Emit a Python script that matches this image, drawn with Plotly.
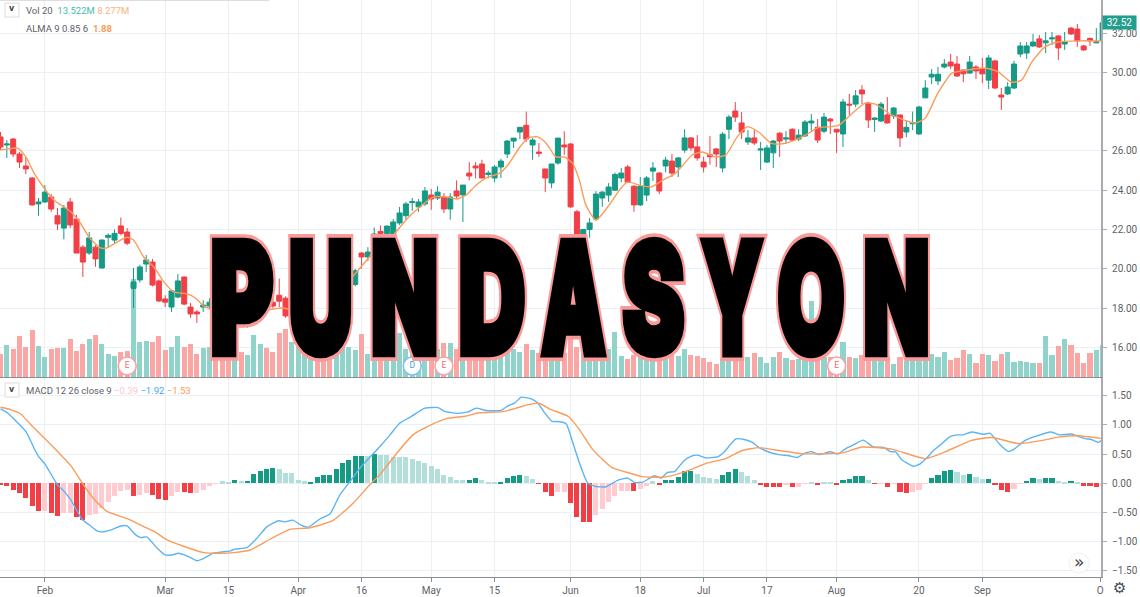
import json
import plotly.graph_objects as go

# ---------- daily price data (bar index 0..174) ----------
opens = [26.71,26.30,26.60,25.84,25.23,24.62,23.30,23.40,23.65,22.70,22.07,23.40,22.53,21.10,20.80,21.10,20.04,21.60,21.46,22.18,
21.87,19.00,19.43,20.24,20.34,19.38,18.46,18.05,18.56,19.58,18.05,17.80,18.05,18.10,18.40,18.00,17.70,17.30,17.85,17.30,
17.65,17.80,18.20,18.30,18.65,18.50,17.50,17.40,17.00,17.00,16.40,16.30,16.80,17.50,18.00,18.60,19.20,20.80,20.60,21.46,
21.90,21.80,21.72,22.33,22.70,23.37,23.15,23.30,23.75,23.60,23.65,23.04,23.96,23.76,24.87,25.23,25.33,24.80,24.62,25.18,
25.84,26.50,26.96,27.30,26.30,25.94,25.08,24.37,25.38,26.30,26.35,22.90,21.30,22.00,22.53,23.60,23.75,24.00,24.62,25.18,
24.20,23.25,23.75,24.97,24.87,25.23,25.48,25.18,26.04,26.66,26.20,25.43,25.80,26.10,25.13,27.10,28.03,27.42,26.45,26.66,
26.04,25.43,25.90,26.90,26.60,27.10,26.60,26.76,27.42,27.20,27.00,27.62,27.10,26.86,28.38,28.38,29.10,28.43,27.60,27.52,
27.83,27.78,27.83,26.96,27.38,26.86,28.70,29.76,29.56,30.27,30.52,30.42,30.12,29.96,30.27,30.17,29.60,30.58,28.84,28.90,
29.20,30.93,30.98,31.34,31.70,31.50,31.70,31.85,31.44,32.25,32.20,31.34,31.72,31.50,31.60]
highs = [26.96,26.55,26.66,25.94,25.69,24.67,23.60,24.26,23.80,23.10,23.25,23.60,22.74,21.20,21.87,21.20,21.50,21.80,22.00,22.60,
22.07,20.04,20.20,20.70,20.50,19.45,18.65,18.92,19.73,19.60,18.25,17.90,18.40,18.50,18.50,18.10,17.80,17.70,17.90,17.75,
17.90,18.20,18.30,18.50,19.50,18.60,17.90,17.80,17.30,17.30,16.45,16.40,16.90,18.10,18.70,19.30,20.00,20.85,21.10,22.10,
22.20,22.20,22.53,23.15,23.40,23.60,23.55,24.16,24.06,24.20,23.85,23.85,24.50,24.26,25.43,25.43,25.55,25.00,25.28,25.60,
26.55,26.65,27.20,28.00,26.65,26.40,25.08,25.33,26.65,27.00,26.40,23.00,22.00,22.58,23.95,23.95,24.36,24.90,25.13,25.28,
24.26,24.67,24.72,25.43,24.93,25.70,25.84,25.69,27.10,26.70,26.80,25.70,26.75,26.15,26.96,27.83,28.49,27.98,27.06,27.06,
26.45,26.30,26.55,26.96,27.00,27.15,27.10,27.57,27.88,27.62,27.93,27.67,27.10,28.64,28.90,29.10,29.35,28.49,27.72,28.49,
28.74,28.23,27.83,27.52,28.00,28.30,29.60,30.17,30.27,30.68,30.93,30.83,30.12,30.83,30.37,30.73,30.88,30.63,29.20,29.50,
30.58,31.54,31.54,31.95,31.90,32.05,32.05,31.90,32.05,32.30,32.46,31.39,31.78,32.25,32.55]
lows = [26.04,25.64,25.69,25.13,24.82,23.20,22.70,23.35,22.90,21.97,21.50,22.07,20.80,19.58,20.70,20.10,20.00,21.10,21.30,21.70,
21.20,18.00,19.30,19.83,19.10,18.30,18.05,17.80,18.50,18.15,17.50,17.24,17.80,18.00,17.90,17.50,17.20,17.20,17.10,17.00,
17.50,17.70,17.90,18.00,18.05,17.50,17.30,17.30,16.90,16.90,15.90,15.90,16.30,17.40,17.90,18.50,19.10,20.00,20.40,21.30,
21.50,21.50,21.46,22.23,22.50,22.94,22.90,23.20,23.00,23.50,22.84,22.50,23.60,22.38,24.50,24.60,24.60,24.60,24.40,24.62,
25.64,26.15,26.60,26.45,25.55,25.70,23.90,24.10,25.30,25.80,23.10,21.20,21.30,21.57,22.45,23.15,23.40,23.96,24.40,24.38,
22.90,23.20,23.45,24.47,23.80,24.90,24.67,24.67,25.90,26.00,25.50,24.90,25.30,25.18,24.90,26.60,27.47,26.60,26.30,26.30,
25.03,25.38,25.13,25.69,26.35,26.50,26.50,26.70,26.96,26.40,26.90,26.86,25.90,26.20,27.83,28.23,28.38,27.16,26.96,27.47,
27.40,27.62,26.20,26.70,27.06,26.83,28.68,29.40,29.35,30.20,30.17,29.76,29.50,29.92,29.66,29.45,29.15,29.15,28.08,28.84,
29.15,30.78,30.68,31.29,31.24,30.98,31.39,30.63,31.14,31.90,31.29,31.09,31.34,31.48,31.50]
closes = [26.20,26.35,25.84,25.43,25.08,23.25,23.40,23.90,23.04,22.28,23.09,22.23,20.80,20.34,21.57,20.50,21.46,21.70,21.80,21.80,
21.30,19.33,20.09,20.45,19.17,18.36,18.30,18.87,19.38,18.20,17.70,17.70,18.15,18.30,18.00,17.60,17.30,17.60,17.25,17.50,
17.75,18.10,18.00,18.10,18.35,17.60,17.80,17.70,17.20,17.20,16.00,16.00,16.40,18.00,18.60,19.20,19.90,20.60,20.85,21.77,
21.80,22.17,22.38,22.84,23.30,23.42,23.40,23.96,23.55,23.90,23.04,23.65,23.70,24.26,24.72,25.13,24.62,24.87,25.18,25.48,
26.50,26.65,27.20,26.60,26.55,25.88,24.62,25.33,26.65,26.20,23.15,21.50,22.00,22.33,23.80,23.90,24.16,24.80,24.87,24.40,
23.25,24.20,24.62,25.13,23.96,25.53,24.87,25.64,26.66,26.15,25.64,25.18,25.70,25.84,26.85,27.72,27.72,26.96,26.66,26.40,
26.10,26.15,26.50,26.50,26.66,26.55,26.80,27.47,27.52,26.55,27.72,27.52,26.96,28.49,28.33,28.80,28.90,27.57,27.67,28.38,
27.42,28.18,26.66,27.20,27.44,28.23,29.20,29.90,29.90,30.42,30.32,29.81,29.92,30.52,30.07,29.92,30.73,29.20,28.74,29.25,
30.42,31.34,31.34,31.54,31.29,31.60,31.75,31.24,31.54,31.95,31.60,31.14,31.60,31.54,32.52]

# volume in millions
volumes = [9.7,13.5,11.8,17.3,12.7,19.9,13.1,8.5,11.8,12.3,12.3,16.1,11.0,13.9,16.1,17.7,13.9,9.7,8.9,10.6,
11.0,41.4,14.8,15.2,14.8,17.3,11.4,12.7,17.3,12.7,13.9,9.7,12.3,12.7,10.6,10.6,10.6,11.4,10.6,9.3,
17.7,13.9,12.3,10.6,18.6,20.3,14.8,12.7,11.8,12.7,12.7,11.8,12.7,11.8,12.7,12.7,11.4,18.2,9.7,9.3,
10.6,10.6,12.7,18.6,11.8,11.0,10.1,10.1,11.4,11.8,14.4,14.4,11.8,10.1,11.0,10.1,10.1,11.0,11.4,11.0,
11.8,11.8,10.6,13.9,11.4,10.1,10.1,11.0,11.0,10.1,17.7,12.7,10.1,10.1,11.0,11.0,11.8,19.0,8.9,7.6,
9.3,10.1,10.1,10.1,10.1,11.0,10.1,8.9,11.8,9.3,8.9,8.0,6.3,5.5,7.6,7.6,7.6,7.6,8.5,10.1,
8.5,5.9,8.5,10.6,8.0,7.2,7.6,7.6,32.1,8.5,8.5,8.5,8.5,14.8,8.5,8.0,9.3,9.3,8.0,6.8,
8.5,5.5,8.5,6.8,7.6,6.8,8.0,9.7,8.5,10.6,7.2,8.0,11.4,9.7,5.9,9.7,9.3,6.8,9.7,10.6,
6.3,6.8,6.3,5.9,5.9,17.3,9.3,13.1,16.1,13.5,10.1,5.9,10.1,11.4,13.5]

# moving average over price
alma_i = [0,1.1,2.7,4,5.3,6.9,8.4,11.1,12.6,14,15.8,16.8,18.4,20,21,22.6,24.2,25.8,27.3,29.5,30.8,32.1,36.8,44.7,50.7,54.1,56.5,58.1,59.9,
62,63.6,65.1,67,68.3,70.4,72,73.5,75.1,76.7,78.8,80.1,82,83.3,84.8,86.1,87.7,89,90.3,91.4,92.4,94,96.1,97.7,99,100.8,102.7,104.5,106.6,109.2,110.8,112.9,114.5,116.3,117.9,119.7,
121.6,123.1,125,127.1,128.9,132.3,134.2,136.5,138.1,140.7,144.4,146,148,150.2,151.7,155.4,157.5,159.6,161.2,162.8,164.9,167,170.1,174]
alma_v = [26.04,26.10,26.14,25.69,24.87,24.10,23.50,22.90,22.33,21.60,21.06,21.06,21.36,21.60,21.46,20.60,20.09,19.33,18.82,18.72,18.50,18.10,17.60,18.00,17.30,19.00,19.94,20.55,21.30,
21.72,22.33,22.84,23.35,23.65,23.65,23.55,23.75,24.26,24.62,24.87,25.28,26.20,26.66,26.71,26.40,25.69,25.69,25.38,24.50,23.25,22.48,23.25,24.00,24.42,24.26,24.16,24.50,24.87,25.79,25.94,25.69,25.79,26.71,27.22,26.96,
26.40,26.35,26.50,26.80,27.16,27.30,27.83,28.43,28.38,27.83,27.42,27.67,28.95,29.96,30.07,30.22,30.02,29.50,29.60,30.52,31.29,31.54,31.60,31.60]

# MACD panel
macd_i = [0,1.1,2.15,4,5.3,6,7,9,10,11.1,12.9,14,15.3,16.3,17.9,19,20,21.3,22.1,23.1,24.7,26,27.1,28.1,29.5,31,32.1,33.6,36.3,37,38.9,40.5,42,43.9,44.9,46.1,47.6,48.6,50.4,52,53.6,55.2,57,59.9,
61.5,63,64.9,67,69.1,70.1,72.2,73.8,75.1,76.7,79,80.1,81.2,82.2,83.8,84.8,85.9,87.1,88,89.3,90.1,91.4,92.7,94,95.6,97.4,99,100.1,101.4,103.2,104.3,105.3,106.4,107.9,109,110,111.3,113.2,114.2,116.1,117.4,118.7,119.7,
121.3,122.9,124.5,125.8,126.8,128.1,129.2,131,132.2,133.4,134.7,136.2,137.8,139.4,140.5,141.3,142.3,144.1,145.2,146.2,147.3,148.3,149.9,151.2,152,153.3,155.2,156.2,157.8,159.1,160.1,161.7,163,165.9,167.2,169,171.2,172.2,173.3,174]
macd_v = [1.276,1.207,1.10,0.89,0.60,0.46,0.33,-0.03,-0.14,-0.29,-0.63,-0.72,-0.83,-0.84,-0.79,-0.74,-0.74,-0.89,-0.94,-0.93,-1.12,-1.24,-1.24,-1.21,-1.26,-1.34,-1.30,-1.21,-1.17,-1.14,-1.115,-0.95,-0.76,-0.65,-0.67,-0.64,-0.735,-0.76,-0.62,-0.535,-0.20,0.03,0.29,0.63,
0.83,1.03,1.15,1.29,1.30,1.235,1.20,1.225,1.29,1.25,1.25,1.33,1.38,1.48,1.45,1.38,1.21,1.06,1.06,1.02,0.78,0.345,0.0,-0.06,-0.065,0.045,0.085,0.01,0.015,0.125,0.085,0.185,0.195,0.385,0.46,0.48,0.435,0.45,0.53,0.76,0.75,0.70,0.615,
0.535,0.49,0.47,0.44,0.505,0.54,0.49,0.54,0.50,0.59,0.66,0.74,0.62,0.615,0.54,0.535,0.40,0.29,0.33,0.43,0.56,0.65,0.80,0.83,0.83,0.88,0.84,0.86,0.66,0.545,0.59,0.73,0.79,0.88,0.83,0.845,0.765,0.75,0.70,0.75]
signal_i = [0,1.6,3.2,4.8,6.9,9,11.1,12.9,14.7,16.8,20,22.6,24.5,26.3,28.9,32.1,34.7,36.8,39.4,42.6,45.7,48.9,52.5,55.7,58.3,59.9,
62.5,65.1,68.3,70.4,73.5,75.6,79.3,81.4,83.5,85.1,86.7,89.6,91.4,93.5,96.4,98.7,101.4,104.5,106.6,109.2,111.3,114.5,117.1,119.7,
122.9,126.6,130.2,132.9,136,140.7,146,149.1,153.3,156.5,160.7,164.3,167,170.1,174]
signal_v = [1.305,1.265,1.19,1.005,0.775,0.545,0.30,0.0,-0.27,-0.49,-0.615,-0.75,-0.85,-0.98,-1.09,-1.20,-1.21,-1.20,-1.155,-0.965,-0.80,-0.77,-0.645,-0.345,-0.03,0.145,
0.505,0.83,1.02,1.11,1.155,1.21,1.23,1.29,1.355,1.37,1.275,1.15,0.92,0.575,0.275,0.19,0.11,0.10,0.145,0.24,0.335,0.42,0.56,0.61,
0.56,0.505,0.505,0.52,0.62,0.585,0.42,0.535,0.735,0.785,0.68,0.73,0.79,0.815,0.765]
hist_v = [-0.03,-0.05,-0.115,-0.18,-0.25,-0.40,-0.48,-0.48,-0.52,-0.575,-0.52,-0.52,-0.585,-0.63,-0.55,-0.535,-0.43,-0.33,-0.23,-0.145,
-0.125,-0.22,-0.21,-0.17,-0.20,-0.27,-0.29,-0.23,-0.155,-0.155,-0.17,-0.17,-0.115,-0.045,-0.005,0.03,0.015,0.055,0.035,0.04,
0.155,0.205,0.235,0.255,0.25,0.17,0.17,0.06,0.03,0.02,0.105,0.13,0.13,0.24,0.34,0.40,0.465,0.465,0.46,0.495,
0.48,0.48,0.45,0.45,0.44,0.415,0.38,0.35,0.29,0.25,0.14,0.11,0.06,0.045,0.055,0.09,0.05,0.015,0.015,0.025,
0.085,0.115,0.145,0.115,0.065,-0.015,-0.155,-0.225,-0.16,-0.16,-0.35,-0.58,-0.665,-0.665,-0.545,-0.44,-0.335,-0.22,-0.13,-0.13,
-0.145,-0.10,-0.06,0.03,-0.03,0.045,0.055,0.105,0.20,0.205,0.16,0.105,0.08,0.075,0.13,0.195,0.235,0.195,0.125,0.055,
-0.02,-0.065,-0.065,-0.075,-0.03,-0.075,-0.065,-0.005,0.025,-0.025,0.025,0.025,-0.025,0.05,0.075,0.12,0.125,0.045,-0.012,-0.005,
-0.065,-0.01,-0.155,-0.17,-0.16,-0.115,-0.005,0.09,0.145,0.205,0.22,0.185,0.14,0.155,0.105,0.065,0.065,-0.02,-0.125,-0.16,
-0.105,-0.01,0.04,0.08,0.075,0.09,0.09,0.035,0.02,0.04,0.015,-0.05,-0.05,-0.07,-0.05]
# 1 = strong shade, 0 = pale shade, for each histogram bar
hist_strong = [1,1,1,1,1,1,1,0,1,1,0,0,1,1,0,0,0,0,0,0,
0,1,0,0,1,1,1,0,0,1,1,0,0,0,0,0,0,1,0,1,
1,1,1,1,0,0,0,0,0,1,1,1,1,1,1,1,1,1,0,1,
0,0,0,0,0,0,0,0,0,0,0,0,0,0,1,1,0,0,0,1,
1,1,1,0,0,1,1,1,0,0,1,1,1,1,0,0,0,0,0,0,
1,0,0,0,1,1,1,1,1,1,0,0,0,0,1,1,1,0,0,0,
1,1,1,1,0,1,0,0,0,1,0,0,1,1,1,1,1,0,1,0,
1,0,1,1,0,0,0,1,1,1,1,0,0,1,0,0,1,1,1,1,
0,0,1,1,0,1,1,0,0,1,0,1,1,1,0]

tick_pos = [7,26,36,47,57,68,78,90,101,111,121,132,145,155,173.6]
tick_txt = ["Feb","Mar","15","Apr","16","May","15","Jun","18","Jul","17","Aug","20","Sep","O"]
event_i = [20,65,70,132]
event_txt = ["E","D","E","E"]
title_letters = list("PUNDASYON")

W, H = 1140, 597
TEAL, RED = "#159a86", "#f23f46"
TEAL_V, RED_V = "#8fd3ca", "#f9a6a5"
TEAL_P, RED_P = "#b2dfd9", "#ffcad0"
BLUE, ORANGE = "#5ab4f5", "#fb9c5a"
GRID = "#e9f1f5"
GREY = "#5d6168"
FONT = "Roboto, sans-serif"
px_x = lambda p: p / W
px_y = lambda p: 1 - p / H
idx = list(range(len(closes)))

fig = go.Figure()
fig.add_trace(go.Bar(x=idx, y=volumes, width=0.8, xaxis="x", yaxis="y",
                     marker=dict(color=[TEAL_V if c >= o else RED_V for o, c in zip(opens, closes)], line_width=0),
                     hoverinfo="skip"))
fig.add_trace(go.Candlestick(x=idx, open=opens, high=highs, low=lows, close=closes, xaxis="x", yaxis="y2",
                             increasing=dict(line=dict(color=TEAL, width=1), fillcolor=TEAL),
                             decreasing=dict(line=dict(color=RED, width=1), fillcolor=RED),
                             whiskerwidth=0, hoverinfo="skip"))
fig.add_trace(go.Scatter(x=alma_i, y=alma_v, mode="lines", xaxis="x", yaxis="y2",
                         line=dict(color=ORANGE, width=1.4, shape="spline", smoothing=0.6), hoverinfo="skip"))
fig.add_trace(go.Scatter(x=event_i, y=[4.65] * 4, mode="markers+text", xaxis="x", yaxis="y",
                         text=event_txt, textposition="middle center",
                         textfont=dict(family=FONT, size=8.5, color=["#ef6a6a", "#3f9bea", "#ef6a6a", "#ef6a6a"]),
                         marker=dict(size=18, color="white",
                                     line=dict(width=1.6, color=["#f7a3a3", "#7cc0f5", "#f7a3a3", "#f7a3a3"])),
                         hoverinfo="skip"))
hist_col = []
for v, s in zip(hist_v, hist_strong):
    if v >= 0:
        hist_col.append(TEAL if s else TEAL_P)
    else:
        hist_col.append(RED if s else RED_P)
fig.add_trace(go.Bar(x=idx, y=hist_v, width=0.8, xaxis="x2", yaxis="y3",
                     marker=dict(color=hist_col, line_width=0), hoverinfo="skip"))
fig.add_trace(go.Scatter(x=macd_i, y=macd_v, mode="lines", xaxis="x2", yaxis="y3",
                         line=dict(color=BLUE, width=1.4, shape="spline", smoothing=0.5), hoverinfo="skip"))
fig.add_trace(go.Scatter(x=signal_i, y=signal_v, mode="lines", xaxis="x2", yaxis="y3",
                         line=dict(color=ORANGE, width=1.4, shape="spline", smoothing=0.5), hoverinfo="skip"))

xrange = [-0.08, 173.75]
dom_x = [0, 1104 / W]
dom_top = [px_y(377), 1]
dom_bot = [px_y(577), px_y(378)]
ann = []


def label(px, py, text, size=9.5, color=GREY):
    ann.append(dict(x=px_x(px), y=px_y(py), xref="paper", yref="paper", text=text, showarrow=False,
                    xanchor="left", yanchor="middle", font=dict(family=FONT, size=size, color=color)))


def glyph(px, py, text, family, size, color, weight=400):
    ann.append(dict(x=px_x(px), y=px_y(py), xref="paper", yref="paper", text=text, showarrow=False,
                    xanchor="center", yanchor="middle", font=dict(family=family, size=size, color=color, weight=weight)))


label(24, 10, 'Vol 20  <span style="color:#45bcae">13.522M</span> <span style="color:#fbb183">8.277M</span>')
label(24, 28, 'ALMA 9 0.85 6  <span style="color:#fb9c5a"><b>1.88</b></span>')
label(24, 390, 'MACD 12 26 close 9 <span style="color:#fcc6cc">−0.39</span> <span style="color:#46a8f2">−1.92</span> <span style="color:#fb9c5a">−1.53</span>')
for py in (10, 390):
    glyph(12, py - 1, "v", "DejaVu Sans", 8, "#444", 700)
ann.append(dict(x=1, y=px_y(22.5), xref="paper", yref="paper", text="32.52", showarrow=False, xanchor="right",
                yanchor="middle", bgcolor="#1f9f8c", width=33, height=13, borderpad=0, align="center",
                font=dict(family=FONT, size=10, color="white")))
glyph(1082, 562, "»", "DejaVu Sans", 17, "#3f444d")
glyph(1122, 587.5, "⚙", "DejaVu Sans", 15, "#454a52")

centers = [242.5, 322, 406, 493, 575, 655, 733.5, 813.5, 899]
widths = [63, 64, 67, 67, 64, 62, 61, 67, 66]
for layer in range(2):
    for ch, cx in zip(title_letters, centers):
        glyph(cx, 298, ch, "Inter, Liberation Sans", 152, "black", 900)

shapes = [
    dict(type="rect", xref="paper", yref="paper", x0=px_x(5), x1=px_x(19), y0=px_y(17), y1=px_y(3),
         line=dict(color="#dcdcdc", width=1), fillcolor="white"),
    dict(type="rect", xref="paper", yref="paper", x0=px_x(5), x1=px_x(19), y0=px_y(397), y1=px_y(383),
         line=dict(color="#dcdcdc", width=1), fillcolor="white"),
    dict(type="line", xref="paper", yref="paper", x0=0, x1=px_x(270), y0=px_y(0.5), y1=px_y(0.5),
         line=dict(color="#dedede", width=1)),
    dict(type="circle", xref="paper", yref="paper", x0=px_x(1072), x1=px_x(1092), y0=px_y(573), y1=px_y(553),
         line=dict(color="#f0f0f0", width=1), fillcolor="white"),
]

fig.update_layout(
    width=W, height=H, margin=dict(l=0, r=0, t=0, b=0), paper_bgcolor="white", plot_bgcolor="white",
    showlegend=False, bargap=0, boxgap=0.1, boxgroupgap=0.12, annotations=ann, shapes=shapes,
    xaxis=dict(domain=dom_x, range=xrange, anchor="y", tickmode="array", tickvals=tick_pos, showticklabels=False,
               showgrid=True, gridcolor=GRID, zeroline=False, showline=True, linecolor="#8a8d92", ticks="",
               rangeslider=dict(visible=False)),
    yaxis=dict(domain=dom_top, range=[0, 159.3], visible=False, showgrid=False, fixedrange=True),
    yaxis2=dict(domain=dom_top, range=[14.49, 33.68], overlaying="y", side="right", anchor="x", dtick=2, tick0=0,
                tickformat=".2f", showgrid=True, gridcolor=GRID, zeroline=False, showline=True, linecolor="#a9abb0",
                linewidth=2, ticks="outside", ticklen=4, tickcolor="#a9abb0", ticklabelstandoff=3,
                tickfont=dict(family=FONT, size=10, color=GREY)),
    xaxis2=dict(domain=dom_x, range=xrange, anchor="y3", tickmode="array", tickvals=tick_pos, ticktext=tick_txt,
                showgrid=True, gridcolor=GRID, zeroline=False, showline=True, linecolor="#8a8d92", ticks="outside",
                ticklen=4, tickcolor="#8a8d92", tickfont=dict(family=FONT, size=10, color=GREY)),
    yaxis3=dict(domain=dom_bot, range=[-1.62, 1.81], side="right", anchor="x2", dtick=0.5, tick0=0, tickformat=".2f",
                showgrid=True, gridcolor=GRID, zeroline=False, showline=True, linecolor="#a9abb0", linewidth=2,
                ticks="outside", ticklen=4, tickcolor="#a9abb0", ticklabelstandoff=3,
                tickfont=dict(family=FONT, size=10, color=GREY)),
)

post = """
document.body.style.margin = '0';
document.documentElement.style.overflow = 'hidden';
var gd = document.getElementById('{plot_id}');
var W = WIDTHS;
function style() {
  var els = Array.prototype.filter.call(gd.querySelectorAll('.annotation-text'), function (t) {
    return parseFloat(t.style.fontSize) > 100;
  });
  els.forEach(function (t, i) {
    var under = i < W.length;
    var w = W[i % W.length];
    var b = t.getBBox();
    var cx = b.x + b.width / 2;
    t.setAttribute('transform', 'translate(' + cx + ',0) scale(' + (w / b.width) + ',1) translate(' + (-cx) + ',0)');
    t.setAttribute('vector-effect', 'non-scaling-stroke');
    t.style.stroke = under ? '#fb9999' : '#000';
    t.style.strokeWidth = under ? '13px' : '7px';
    t.style.strokeLinejoin = 'miter';
    t.style.paintOrder = 'stroke';
  });
}
style(); gd.on('plotly_afterplot', style); setTimeout(style, 100); setTimeout(style, 500);
""".replace("WIDTHS", json.dumps(widths))

fig.write_html("out.html", post_script=post, config=dict(displayModeBar=False))
